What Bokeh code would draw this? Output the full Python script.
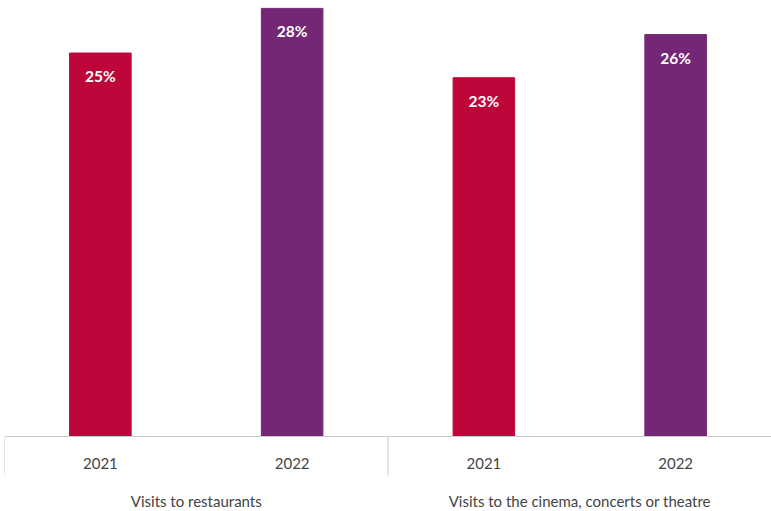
import math
from bokeh.plotting import figure
from bokeh.models import FactorRange, Range1d, ColumnDataSource, Span
from bokeh.transform import dodge
from bokeh.embed import file_html
from bokeh.resources import INLINE
from bokeh.core.properties import value

groups = ["Visits to restaurants", "Visits to the cinema, concerts or theatre"]
years = ["2021", "2022"]
values = [24.9, 27.8, 23.3, 26.1]
colors_by_year = {"2021": "#BE0539", "2022": "#732774"}

factors = [(g, y) for g in groups for y in years]
labels = [f"{round(v)}%" for v in values]
colors = [colors_by_year[f[1]] for f in factors]

src = ColumnDataSource(dict(x=factors, top=values, label=labels, color=colors,
                            year=[f[1] for f in factors]))
grp_src = ColumnDataSource(dict(x=groups, name=groups))
left_edges = ColumnDataSource(dict(x=[(g, years[0]) for g in groups]))
right_edges = ColumnDataSource(dict(x=[(groups[-1], years[-1])]))

x_range = FactorRange(*factors, group_padding=0, factor_padding=0, range_padding=0)

p = figure(width=771, height=511, x_range=x_range, y_range=Range1d(-4.870, 28.312),
           output_backend="svg", toolbar_location=None,
           min_border_left=4, min_border_right=0, min_border_top=0, min_border_bottom=0,
           x_axis_location=None, y_axis_location=None)
p.outline_line_color = None
p.grid.visible = False
p.background_fill_color = "white"
p.border_fill_color = "white"

GRAY = "#cccccc"
TXT = "#444444"

p.vbar(x="x", top="top", width=0.321, bottom=0, color="color", source=src)
p.text(x="x", y="top", text="label", source=src, text_color="white",
       text_font=value("Lato"), text_font_style="bold", text_font_size="15.5px",
       text_align="center", text_baseline="middle", y_offset=23)

# category axis line and group separators
p.add_layout(Span(location=0, dimension="width", line_color=GRAY, line_width=1))
p.ray(x=dodge("x", -0.5, range=x_range), y=0, length=39, length_units="screen",
      angle=-math.pi / 2, line_color=GRAY, line_width=1, source=left_edges)
p.ray(x=dodge("x", 0.5, range=x_range), y=0, length=39, length_units="screen",
      angle=-math.pi / 2, line_color=GRAY, line_width=1, source=right_edges)

# year labels and group labels
p.text(x="x", y=0, text="year", source=src, text_color=TXT,
       text_font=value("Lato"), text_font_size="15px",
       text_align="center", text_baseline="middle", y_offset=27)
p.text(x="x", y=0, text="name", source=grp_src, text_color=TXT,
       text_font=value("Lato"), text_font_size="15px",
       text_align="center", text_baseline="middle", y_offset=64)

open("out.html", "w").write(file_html(p, INLINE))
